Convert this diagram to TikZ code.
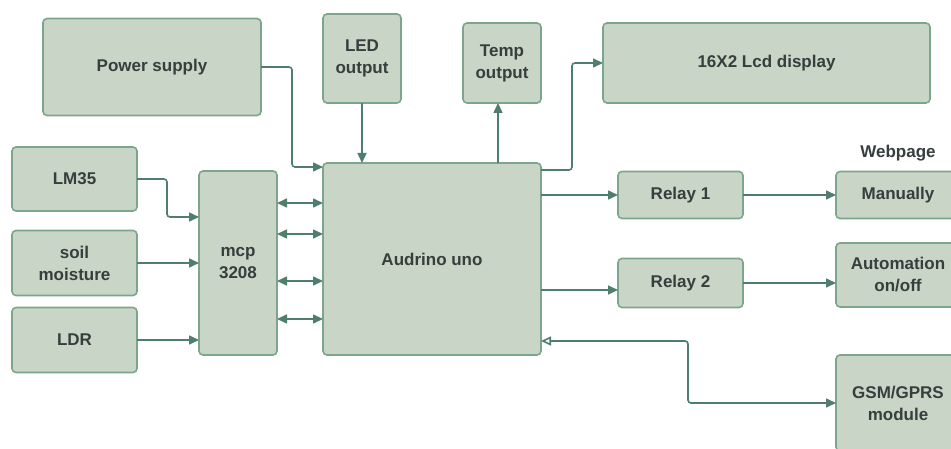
\documentclass[tikz,border=0pt]{standalone}
\usepackage{fontspec}
\setmainfont{Liberation Sans}
\usepackage{xcolor}
\usetikzlibrary{arrows.meta, positioning}
\definecolor{boxfill}{HTML}{C9D5C6}
\definecolor{boxline}{HTML}{7BA68A}
\definecolor{pipecol}{HTML}{4F7F6C}
\definecolor{txtcol}{HTML}{363E3E}
\tikzset{
  blk/.style={rectangle, rounded corners=4pt, line width=1.6pt, align=center,
              draw=boxline, fill=boxfill, text=txtcol, inner sep=0pt, outer sep=0pt,
              font=\fontsize{17}{22}\selectfont\bfseries},
  pipe/.style={-{Triangle[length=10pt, width=9pt]}, line width=1.6pt, draw=pipecol,
               rounded corners=3pt},
  dpipe/.style={pipe, {Triangle[length=10pt, width=9pt]}-{Triangle[length=10pt, width=9pt]}},
  gsmpipe/.style={pipe, {Triangle[open, length=10pt, width=9pt]}-{Triangle[length=10pt, width=9pt]}},
  lbl/.style={font=\fontsize{17}{22}\selectfont\bfseries, text=txtcol},
}
\begin{document}
\begin{tikzpicture}[x=1pt, y=-1pt]
  \clip (0,0) rectangle (951,449);
  \fill[white] (0,0) rectangle (951,449);
  % blocks
  \node[blk, minimum width=218pt, minimum height=97pt] (pwr) at (152,67) {Power supply};
  \node[blk, minimum width=125pt, minimum height=64pt] (lm) at (74.5,179) {LM35};
  \node[blk, minimum width=125pt, minimum height=65pt] (soil) at (74.5,263) {soil\\moisture};
  \node[blk, minimum width=125pt, minimum height=65pt] (ldr) at (74.5,340) {LDR};
  \node[blk, minimum width=78pt, minimum height=184pt] (mcp) at (238,263) {mcp\\3208};
  \node[blk, minimum width=78pt, minimum height=89pt] (led) at (362,58.5) {LED\\output};
  \node[blk, minimum width=78pt, minimum height=80pt] (temp) at (502,63) {Temp\\output};
  \node[blk, minimum width=218pt, minimum height=192pt] (ard) at (432,259) {Audrino uno};
  \node[blk, minimum width=327pt, minimum height=80pt] (lcd) at (766.5,63) {16X2 Lcd display};
  \node[blk, minimum width=125pt, minimum height=47pt] (r1) at (680.5,195) {Relay 1};
  \node[blk, minimum width=125pt, minimum height=49pt] (r2) at (680.5,283) {Relay 2};
  \node[blk, minimum width=124pt, minimum height=47pt] (man) at (898,195) {Manually};
  \node[blk, minimum width=124pt, minimum height=64pt] (auto) at (898,275) {Automation\\on/off};
  \node[blk, minimum width=124pt, minimum height=96pt] (gsm) at (898,403) {GSM/GPRS\\module};
  \node[lbl] (web) at (898,153) {Webpage};
  % connectors
  \draw[pipe] (pwr.east) -- (292,67) |- ([yshift=-4pt]ard.north west);
  \draw[pipe] (lm.east) -- (167,179) |- ([yshift=-46pt]mcp.north west);
  \draw[pipe] (soil.east) -- (soil.east -| mcp.west);
  \draw[pipe] (ldr.east) -- (ldr.east -| mcp.west);
  \foreach \y in {203,234,281,319}
    \draw[dpipe] (mcp.east |- 0,\y) -- (ard.west |- 0,\y);
  \draw[pipe] (led.south) -- (led.south |- ard.north);
  \draw[pipe] (ard.north -| 498,0) -- (temp.south -| 498,0);
  \draw[pipe] ([yshift=-7pt]ard.north east) -- (572,170) |- (lcd.west);
  \draw[pipe] (ard.east |- r1.west) -- (r1.west);
  \draw[pipe] (ard.east |- 0,290) -- (r2.west |- 0,290);
  \draw[pipe] (r1.east) -- (man.west);
  \draw[pipe] (r2.east) -- (r2.east -| auto.west);
  \draw[gsmpipe] (ard.east |- 0,341) -- (688,341) |- (gsm.west);
\end{tikzpicture}
\end{document}
